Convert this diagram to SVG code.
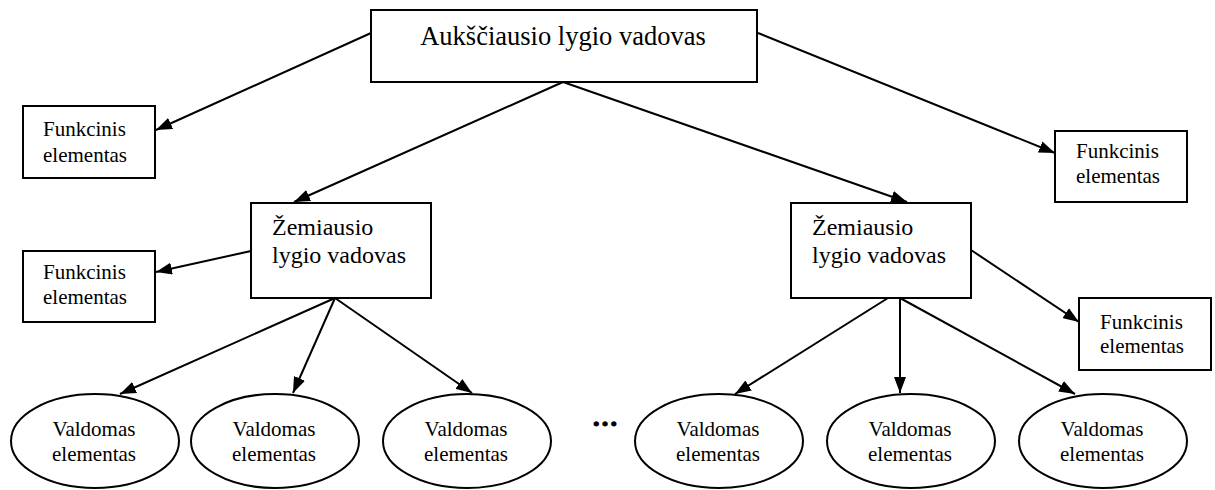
<svg xmlns="http://www.w3.org/2000/svg" width="1215" height="490" viewBox="0 0 1215 490">
  <defs>
    <marker id="arrow" markerUnits="userSpaceOnUse" markerWidth="16" markerHeight="12" refX="16" refY="6" orient="auto">
      <path d="M0,0 L16,6 L0,12 z" fill="#000"/>
    </marker>
    <style>
      .box { fill: #fff; stroke: #000; stroke-width: 2; }
      .edge { stroke: #000; stroke-width: 2; fill: none; marker-end: url(#arrow); }
      .t { font-family: "Liberation Serif", "Times New Roman", serif; fill: #000; }
      .top { font-size: 26.5px; }
      .mid { font-size: 24px; }
      .small { font-size: 21px; }
    </style>
  </defs>
  <rect width="1215" height="490" fill="#fff"/>

  <!-- connectors -->
  <g id="connectors">
    <line class="edge" x1="371" y1="33" x2="156" y2="130"/>
    <line class="edge" x1="563" y1="82" x2="294" y2="202"/>
    <line class="edge" x1="563" y1="82" x2="907" y2="202"/>
    <line class="edge" x1="758" y1="33" x2="1055" y2="153"/>
    <line class="edge" x1="251" y1="251" x2="156" y2="272"/>
    <line class="edge" x1="971" y1="250" x2="1079" y2="322"/>
    <line class="edge" x1="335" y1="298" x2="120" y2="394"/>
    <line class="edge" x1="335" y1="298" x2="293" y2="393"/>
    <line class="edge" x1="335" y1="298" x2="472" y2="393"/>
    <line class="edge" x1="888" y1="298" x2="735" y2="394"/>
    <line class="edge" x1="900" y1="298" x2="900" y2="393"/>
    <line class="edge" x1="900" y1="298" x2="1075" y2="394"/>
  </g>

  <!-- top manager -->
  <g id="top-manager">
    <rect class="box" x="371" y="10" width="386" height="72"/>
    <text class="t top" x="563" y="45" text-anchor="middle">Aukščiausio lygio vadovas</text>
  </g>

  <!-- functional elements -->
  <g id="func-1">
    <rect class="box" x="23" y="106" width="132" height="72"/>
    <text class="t small" x="43" y="136">Funkcinis</text>
    <text class="t small" x="43" y="162">elementas</text>
  </g>
  <g id="func-2">
    <rect class="box" x="23" y="251" width="132" height="71"/>
    <text class="t small" x="43" y="279">Funkcinis</text>
    <text class="t small" x="43" y="304">elementas</text>
  </g>
  <g id="func-3">
    <rect class="box" x="1055" y="131" width="132" height="71"/>
    <text class="t small" x="1076" y="158">Funkcinis</text>
    <text class="t small" x="1076" y="183">elementas</text>
  </g>
  <g id="func-4">
    <rect class="box" x="1079" y="298" width="132" height="72"/>
    <text class="t small" x="1100" y="329">Funkcinis</text>
    <text class="t small" x="1100" y="353">elementas</text>
  </g>

  <!-- lower managers -->
  <g id="low-manager-1">
    <rect class="box" x="251" y="203" width="180" height="95"/>
    <text class="t mid" x="272" y="235">Žemiausio</text>
    <text class="t mid" x="272" y="263">lygio vadovas</text>
  </g>
  <g id="low-manager-2">
    <rect class="box" x="791" y="203" width="180" height="95"/>
    <text class="t mid" x="812" y="235">Žemiausio</text>
    <text class="t mid" x="812" y="263">lygio vadovas</text>
  </g>

  <!-- controlled elements -->
  <g id="ctrl-1">
    <ellipse class="box" cx="95" cy="441" rx="84" ry="47"/>
    <text class="t small" x="94" y="436" text-anchor="middle">Valdomas</text>
    <text class="t small" x="94" y="461" text-anchor="middle">elementas</text>
  </g>
  <g id="ctrl-2">
    <ellipse class="box" cx="275" cy="441" rx="84" ry="47"/>
    <text class="t small" x="274" y="436" text-anchor="middle">Valdomas</text>
    <text class="t small" x="274" y="461" text-anchor="middle">elementas</text>
  </g>
  <g id="ctrl-3">
    <ellipse class="box" cx="467" cy="441" rx="84" ry="47"/>
    <text class="t small" x="466" y="436" text-anchor="middle">Valdomas</text>
    <text class="t small" x="466" y="461" text-anchor="middle">elementas</text>
  </g>
  <g id="ctrl-4">
    <ellipse class="box" cx="719" cy="441" rx="84" ry="47"/>
    <text class="t small" x="718" y="436" text-anchor="middle">Valdomas</text>
    <text class="t small" x="718" y="461" text-anchor="middle">elementas</text>
  </g>
  <g id="ctrl-5">
    <ellipse class="box" cx="911" cy="441" rx="84" ry="47"/>
    <text class="t small" x="910" y="436" text-anchor="middle">Valdomas</text>
    <text class="t small" x="910" y="461" text-anchor="middle">elementas</text>
  </g>
  <g id="ctrl-6">
    <ellipse class="box" cx="1103" cy="441" rx="84" ry="47"/>
    <text class="t small" x="1102" y="436" text-anchor="middle">Valdomas</text>
    <text class="t small" x="1102" y="461" text-anchor="middle">elementas</text>
  </g>

  <!-- continuation mark between groups -->
  <text class="t" x="605" y="426" text-anchor="middle" font-size="26" font-weight="bold" stroke="#000" stroke-width="1.2">…</text>
</svg>
